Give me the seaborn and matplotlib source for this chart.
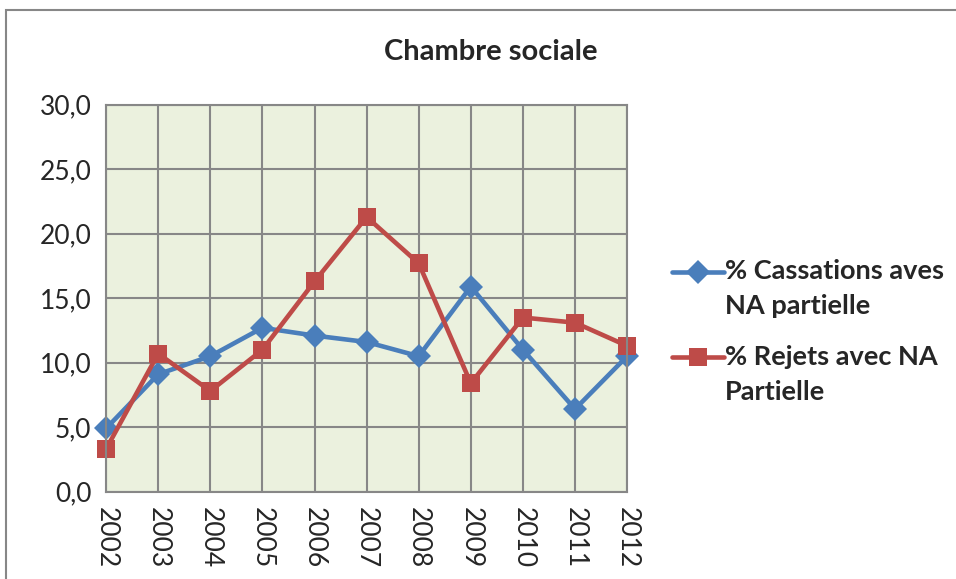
import pandas as pd
import numpy as np
import seaborn as sns
import matplotlib.pyplot as plt
from matplotlib.patches import Rectangle
from matplotlib.ticker import FuncFormatter
from matplotlib.legend_handler import HandlerLine2D

years = [2002, 2003, 2004, 2005, 2006, 2007, 2008, 2009, 2010, 2011, 2012]
cassations = [4.9, 9.1, 10.5, 12.7, 12.1, 11.6, 10.5, 15.9, 11.0, 6.4, 10.5]
rejets = [3.3, 10.7, 7.8, 11.0, 16.3, 21.3, 17.7, 8.4, 13.5, 13.1, 11.3]
labels = ['% Cassations aves\nNA partielle', '% Rejets avec NA\nPartielle']
y_ticks = [0, 5, 10, 15, 20, 25, 30]

df = pd.concat([
    pd.DataFrame({'year': years, 'value': cassations, 'serie': labels[0]}),
    pd.DataFrame({'year': years, 'value': rejets, 'serie': labels[1]}),
])


class FirstLineHandler(HandlerLine2D):
    # put the legend handle next to the first line of a two-line label
    def __init__(self, shift, **kw):
        super().__init__(**kw)
        self.shift = shift

    def create_artists(self, *args, **kw):
        arts = super().create_artists(*args, **kw)
        for a in arts:
            a.set_ydata(np.asarray(a.get_ydata(), dtype=float) + self.shift)
        return arts


sns.set_style('white')
plt.rcParams['font.family'] = ['Lato', 'DejaVu Sans']

fig = plt.figure(figsize=(9.56, 5.79), dpi=100)
ax = fig.add_axes([0.111, 0.151, 0.545, 0.668])
ax.set_facecolor('#EBF1DE')

sns.lineplot(data=df, x='year', y='value', hue='serie', style='serie',
             palette=['#4A7EBB', '#BE4B48'], markers=['D', 's'], dashes=False,
             linewidth=3.3, markersize=12, markeredgewidth=0, ax=ax, legend=True)
for ln in ax.get_lines():
    ln.set_clip_on(False)
    if ln.get_marker() == 's':
        ln.set_markersize(13.5)

ax.set_xlim(2002, 2012)
ax.set_ylim(0, 30)
ax.set_xticks(years)
ax.set_yticks(y_ticks)
ax.yaxis.set_major_formatter(FuncFormatter(lambda v, p: f'{v:.1f}'.replace('.', ',')))
ax.grid(True, color='#878787', linewidth=1.5)
ax.set_axisbelow(True)
for s in ax.spines.values():
    s.set_color('#878787')
    s.set_linewidth(1.5)
ax.tick_params(axis='both', length=7, width=1.5, color='#878787', labelsize=19)
ax.tick_params(axis='x', rotation=-90, pad=4)
ax.set_xlabel('')
ax.set_ylabel('')

fig.text(0.513, 0.91, 'Chambre sociale', fontsize=21, fontweight='bold',
         ha='center', va='center')

handles, _ = ax.get_legend_handles_labels()
for h in handles:
    h.set_linewidth(3.3)
leg = ax.legend(handles, labels, loc='upper left', bbox_to_anchor=(1.04, 0.665),
                frameon=False, prop={'size': 19.5, 'weight': 'bold'},
                handlelength=1.9, labelspacing=0.97, handletextpad=0.05,
                handler_map={h: FirstLineHandler(12.6) for h in handles})
for t in leg.get_texts():
    t.set_linespacing(1.58)

fig.patches.append(Rectangle((0.006, -0.1), 1.1, 1.083, transform=fig.transFigure,
                             fill=False, edgecolor='#878787', linewidth=1.5))

fig.savefig('out.png', dpi=100)
